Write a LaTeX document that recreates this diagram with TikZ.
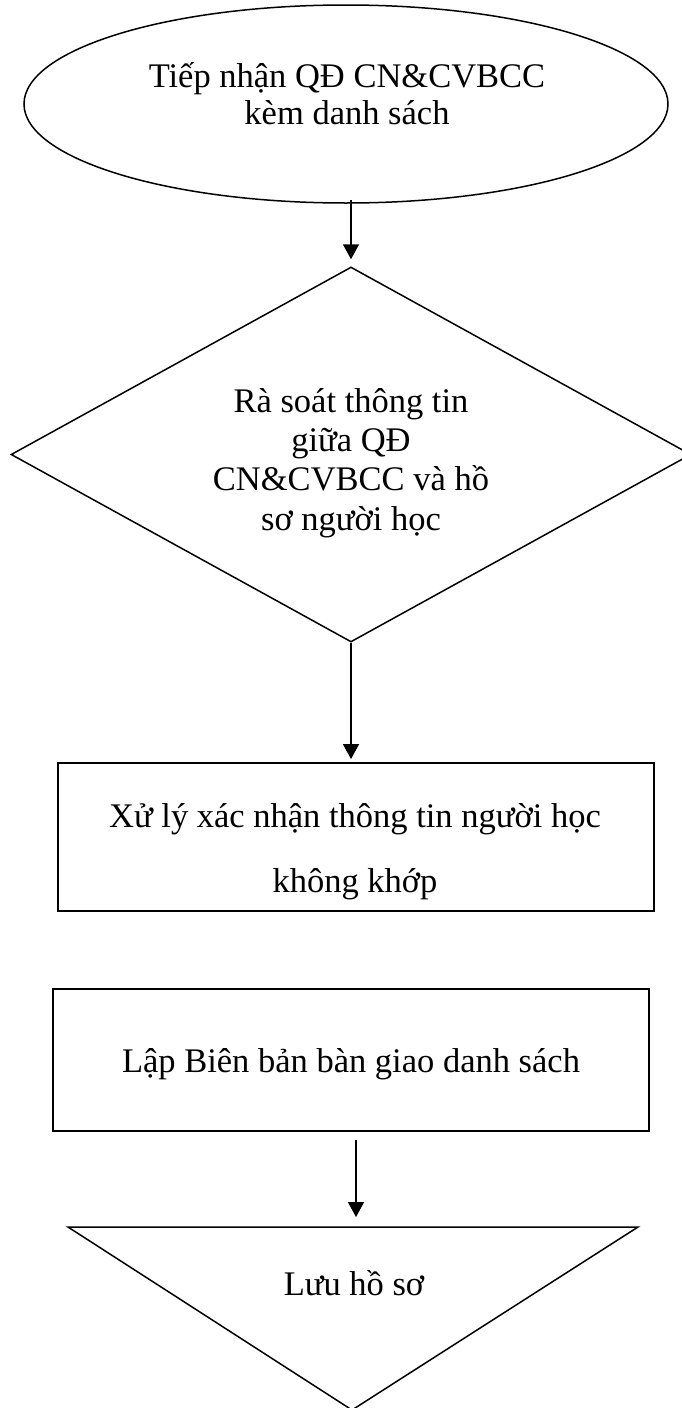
\documentclass[tikz,border=0pt]{standalone}
\usepackage{fontspec}
\setmainfont{Liberation Serif}
\usetikzlibrary{shapes.geometric,arrows.meta,calc}
\begin{document}
\begin{tikzpicture}[x=1pt,y=-1pt,
  shapeline/.style={draw=black,line width=1.5pt},
  boxline/.style={draw=black,line width=1.9pt,rectangle,inner sep=0pt},
  flow/.style={draw=black,line width=1.5pt,-{Triangle[length=15pt,width=16pt]}},
  lbl/.style={anchor=base,inner sep=0pt,font=\fontsize{34.5}{39}\selectfont}]
\useasboundingbox (0,0) rectangle (681,1408);

% start: receiving the decision
\node[ellipse,shapeline,inner sep=0pt,minimum width=644pt,minimum height=198pt] (start) at (346,104) {};
\node[lbl] (startA) at (347,87) {Tiếp nhận QĐ CN\&CVBCC};
\node[lbl] (startB) at (347,124) {kèm danh sách};

% decision: review
\node[diamond,shapeline,inner sep=0pt,minimum width=680pt,minimum height=375pt] (check) at (351,454.5) {};
\node[lbl] (checkA) at (351,412) {Rà soát thông tin};
\node[lbl] (checkB) at (351,451) {giữa QĐ};
\node[lbl] (checkC) at (351,490.5) {CN\&CVBCC và hồ};
\node[lbl] (checkD) at (351,530) {sơ người học};

% process boxes
\node[boxline,minimum width=596pt,minimum height=148pt] (fix) at (356,837) {};
\node[lbl] (fixA) at (355,827) {Xử lý xác nhận thông tin người học};
\node[lbl] (fixB) at (355,892) {không khớp};

\node[boxline,minimum width=596pt,minimum height=142pt] (summary) at (351,1060) {};
\node[lbl] (summaryA) at (351,1072) {Lập Biên bản bàn giao danh sách};

% storage triangle
\coordinate (tl) at (68,1227);
\coordinate (tr) at (638,1227);
\coordinate (tb) at (352,1410);
\coordinate (store) at (356,1227);
\draw[shapeline,line join=miter] (tl) -- (tr) -- (tb) -- cycle;
\node[lbl] (storeA) at (354,1295) {Lưu hồ sơ};

% connectors
\draw[flow,shorten >=7pt] ($(start.south -| check.north)+(0,-4)$) -- (check.north);
\draw[flow,shorten >=3pt] (check.south) -- (check.south |- fix.north);
\draw[flow,shorten <=8pt,shorten >=10pt] ($(summary.south)+(5,0)$) -- (store);
\end{tikzpicture}
\end{document}
